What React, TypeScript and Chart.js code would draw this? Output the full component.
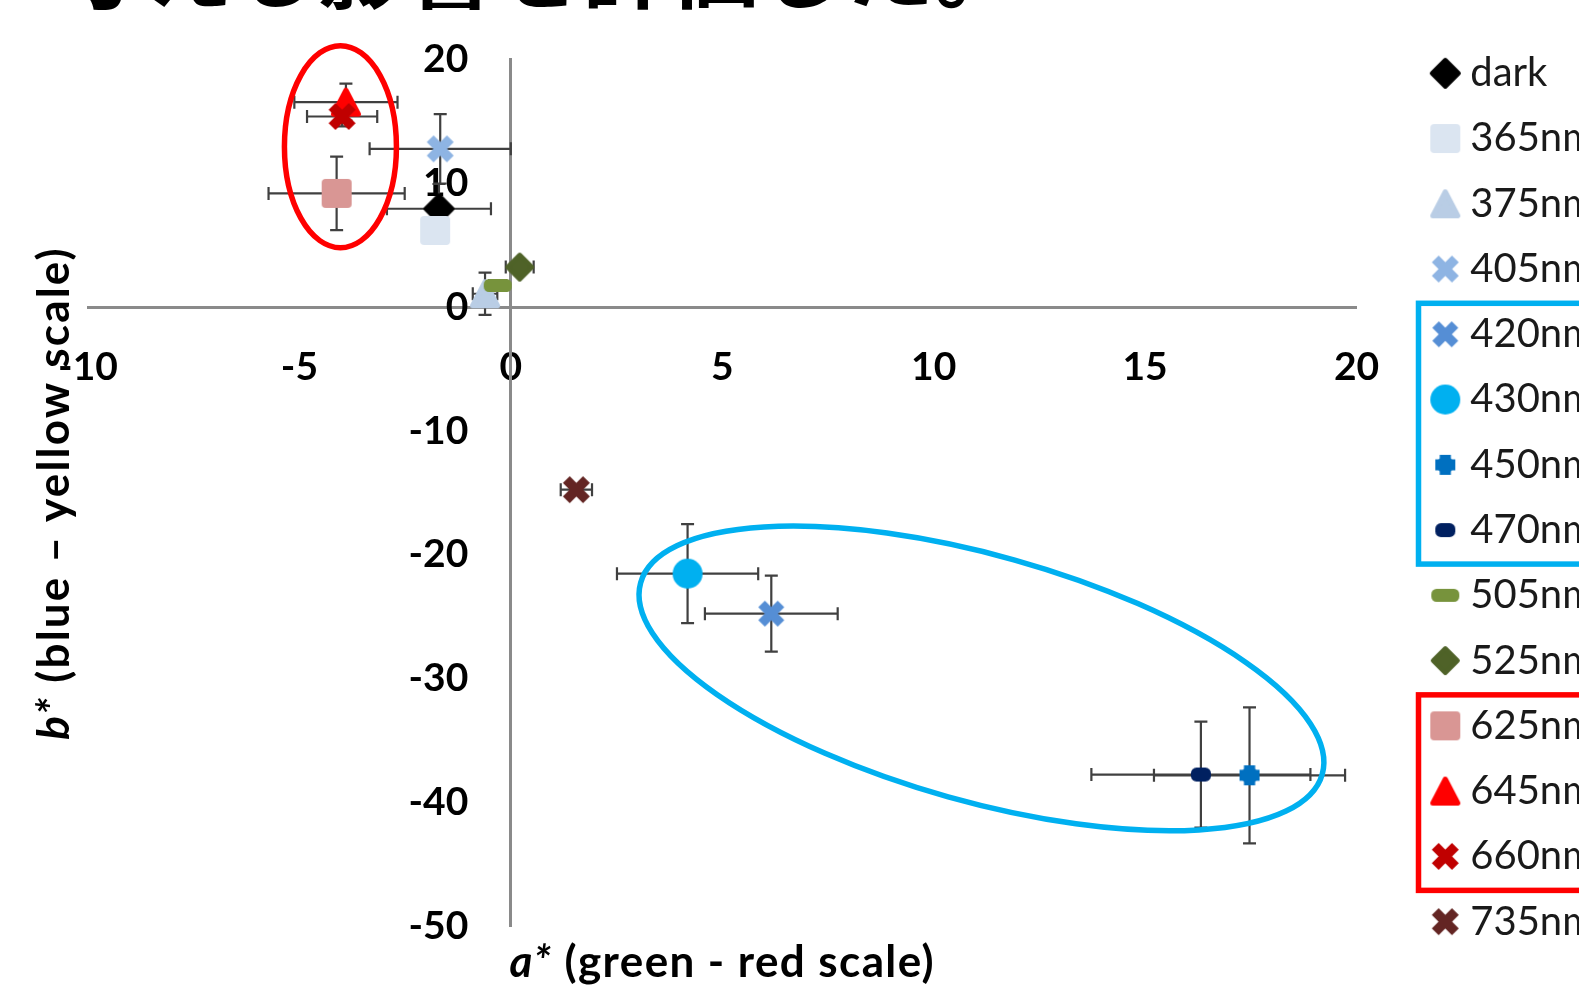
import { useEffect, useRef } from 'react';
import { Chart, registerables } from 'chart.js';

Chart.register(...registerables);

// Series in legend order
const seriesNames = ['dark', '365nm', '375nm', '405nm', '420nm', '430nm', '450nm', '470nm', '505nm', '525nm', '625nm', '645nm', '660nm', '735nm'];
// a* (green - red) mean values
const aValues = [-1.70, -1.79, -0.61, -1.67, 6.16, 4.18, 17.47, 16.32, -0.31, 0.21, -4.12, -3.90, -3.99, 1.55];
// b* (blue - yellow) mean values
const bValues = [7.94, 6.19, 1.08, 12.78, -24.75, -21.52, -37.80, -37.74, 1.75, 3.23, 9.18, 16.55, 15.39, -14.74];
// standard deviations
const aErrors = [1.23, 0.20, 0.29, 1.67, 1.57, 1.67, 2.26, 2.59, 0.20, 0.33, 1.61, 1.22, 0.83, 0.37];
const bErrors = [2.00, 0.30, 1.70, 2.80, 3.07, 4.00, 5.49, 4.28, 0.30, 0.30, 2.97, 1.50, 0.80, 0.30];

// axis ranges: [min, max, step]
const aAxisRange = [-10, 20, 5];
const bAxisRange = [-50, 20, 10];

const headline = '与える影響を評価した。';
const aTitle = ['a*', ' (green - red scale)'];
const bTitle = ['b*', ' (blue \u2013 yellow scale)'];

const seriesColors = ['#000000', '#dbe5f1', '#b9cde5', '#8eb4e3', '#558ed5', '#00b0f0', '#0070c0', '#002060', '#77933c', '#4f6228', '#d99694', '#ff0000', '#c00000', '#632523'];
// marker shape, width, height
const markerShapes: [string, number, number][] = [
  ['diamond', 31, 31], ['square', 30, 29], ['triangle', 30, 29], ['cross', 27, 27],
  ['cross', 26, 26], ['circle', 30, 30], ['plus', 20, 20], ['dash', 20, 14],
  ['dash', 28, 13], ['diamond', 29, 29], ['square', 30, 29], ['triangle', 30, 29],
  ['cross', 27, 27], ['cross', 27, 27],
];

// highlighted legend groups (row indices)
const legendGroups = [
  { first: 4, last: 7, color: '#00b0f0' },
  { first: 10, last: 12, color: '#ff0000' },
];
// ellipses around the same groups: centre in data units, radii in px, rotation in degrees
const groupEllipses = [
  { a: -4.03, b: 12.95, rx: 56, ry: 101, rot: 0, color: '#ff0000' },
  { a: 11.13, b: -29.98, rx: 354, ry: 123, rot: 15.7, color: '#00b0f0' },
];

const FONT = 'Lato';
const LEGEND_FONT = 40;
const LEGEND_PAD = 25.26;
const LEGEND_LEFT = 1415;
const LEGEND_TOP = 28;

function makeMarker(kind: string, color: string, w: number, h: number) {
  const pad = 3;
  const c = document.createElement('canvas');
  c.width = Math.ceil(w + pad * 2);
  c.height = Math.ceil(h + pad * 2);
  const g = c.getContext('2d')!;
  g.translate(c.width / 2, c.height / 2);
  g.fillStyle = color;
  g.strokeStyle = color;
  g.lineJoin = 'round';
  const hw = w / 2;
  const hh = h / 2;
  if (kind === 'diamond') {
    g.lineWidth = 4;
    g.beginPath();
    g.moveTo(0, -hh + 2); g.lineTo(hw - 2, 0); g.lineTo(0, hh - 2); g.lineTo(-hw + 2, 0);
    g.closePath(); g.fill(); g.stroke();
  } else if (kind === 'square') {
    g.beginPath(); g.roundRect(-hw, -hh, w, h, 4); g.fill();
  } else if (kind === 'triangle') {
    g.lineWidth = 5;
    g.beginPath();
    g.moveTo(0, -hh + 2.5); g.lineTo(hw - 2.5, hh - 2.5); g.lineTo(-hw + 2.5, hh - 2.5);
    g.closePath(); g.fill(); g.stroke();
  } else if (kind === 'cross') {
    const t = w * 0.36;
    const d = hw - t / (2 * Math.SQRT2);
    g.lineWidth = t; g.lineCap = 'butt';
    g.beginPath();
    g.moveTo(-d, -d); g.lineTo(d, d);
    g.moveTo(d, -d); g.lineTo(-d, d);
    g.stroke();
  } else if (kind === 'circle') {
    g.beginPath(); g.arc(0, 0, hw, 0, Math.PI * 2); g.fill();
  } else if (kind === 'plus') {
    g.lineWidth = w * 0.56; g.lineCap = 'butt';
    g.beginPath(); g.moveTo(-hw, 0); g.lineTo(hw, 0); g.moveTo(0, -hh); g.lineTo(0, hh); g.stroke();
    g.beginPath(); g.arc(0, 0, hw * 0.86, 0, Math.PI * 2); g.fill();
  } else {
    g.beginPath(); g.roundRect(-hw, -hh, w, h, hh * 0.8); g.fill();
  }
  return c;
}

const errorBars = {
  id: 'errorBars',
  beforeDatasetsDraw(chart: any) {
    const { ctx, scales: { x, y } } = chart;
    const cap = 6.5;
    ctx.save();
    ctx.strokeStyle = '#404040';
    ctx.lineWidth = 2.2;
    aValues.forEach((a, i) => {
      const b = bValues[i];
      const px = x.getPixelForValue(a);
      const py = y.getPixelForValue(b);
      const xl = x.getPixelForValue(a - aErrors[i]);
      const xr = x.getPixelForValue(a + aErrors[i]);
      const yt = y.getPixelForValue(b + bErrors[i]);
      const yb = y.getPixelForValue(b - bErrors[i]);
      ctx.beginPath();
      ctx.moveTo(xl, py); ctx.lineTo(xr, py);
      ctx.moveTo(xl, py - cap); ctx.lineTo(xl, py + cap);
      ctx.moveTo(xr, py - cap); ctx.lineTo(xr, py + cap);
      ctx.moveTo(px, yt); ctx.lineTo(px, yb);
      ctx.moveTo(px - cap, yt); ctx.lineTo(px + cap, yt);
      ctx.moveTo(px - cap, yb); ctx.lineTo(px + cap, yb);
      ctx.stroke();
    });
    ctx.restore();
  },
};

// Place the legend beside the plot and run the b* axis through a* = 0
const placeBoxes = {
  id: 'placeBoxes',
  afterLayout(chart: any) {
    const zeroX = chart.scales.x.getPixelForValue(0);
    chart.scales.y.left = zeroX - 250;
    chart.scales.y.right = zeroX;
    chart.scales.y.width = 250;
    const lg = chart.legend;
    if (!lg) return;
    lg.left = LEGEND_LEFT;
    lg.top = LEGEND_TOP;
    lg.right = 3000;
    lg.bottom = 3000;
    lg.width = lg.right - lg.left;
    lg.height = lg.bottom - lg.top;
  },
};

function drawMixed(ctx: CanvasRenderingContext2D, parts: string[], size: number, spacing: number) {
  const fonts = [`italic bold ${size}px ${FONT}`, `bold ${size}px ${FONT}`];
  (ctx as any).letterSpacing = `${spacing}px`;
  const widths = parts.map((p, k) => { ctx.font = fonts[k]; return ctx.measureText(p).width; });
  let x = -(widths[0] + widths[1]) / 2;
  parts.forEach((p, k) => {
    ctx.font = fonts[k];
    ctx.fillText(p, x, 0);
    x += widths[k];
  });
}

const decorations = {
  id: 'decorations',
  afterDatasetsDraw(chart: any) {
    const { ctx, scales: { x, y } } = chart;
    ctx.save();
    ctx.lineWidth = 5.5;
    groupEllipses.forEach((e) => {
      ctx.strokeStyle = e.color;
      ctx.beginPath();
      ctx.ellipse(x.getPixelForValue(e.a), y.getPixelForValue(e.b), e.rx, e.ry, (e.rot * Math.PI) / 180, 0, Math.PI * 2);
      ctx.stroke();
    });
    ctx.restore();
  },
  afterDraw(chart: any) {
    const { ctx, chartArea } = chart;
    ctx.save();
    ctx.fillStyle = '#000';
    ctx.textAlign = 'left';
    ctx.textBaseline = 'alphabetic';
    // horizontal axis title
    ctx.save();
    ctx.translate((chartArea.left + chartArea.right) / 2, 977);
    drawMixed(ctx, aTitle, 44, 1.4);
    ctx.restore();
    // vertical axis title
    ctx.save();
    ctx.translate(69, 493);
    ctx.rotate(-Math.PI / 2);
    drawMixed(ctx, bTitle, 44, 2.2);
    ctx.restore();
    // legend group frames
    const lg = chart.legend;
    const rowCenter = (i: number) => lg.top + LEGEND_PAD + LEGEND_FONT / 2 + i * (LEGEND_FONT + LEGEND_PAD);
    ctx.lineWidth = 5.5;
    legendGroups.forEach((grp) => {
      ctx.strokeStyle = grp.color;
      const top = rowCenter(grp.first) - 31;
      const bottom = rowCenter(grp.last) + 34;
      ctx.strokeRect(1418.5, top, 400, bottom - top);
    });
    ctx.restore();
  },
};

export default function App() {
  const ref = useRef<HTMLCanvasElement>(null);
  useEffect(() => {
    const canvas = ref.current!;
    const markers = seriesNames.map((_, i) => makeMarker(markerShapes[i][0], seriesColors[i], markerShapes[i][1], markerShapes[i][2]));
    const tickFont = { family: FONT, size: 39, weight: 'bold' as const };
    const chart = new Chart(canvas, {
      type: 'scatter',
      data: {
        datasets: seriesNames.map((name, i) => ({
          label: name,
          data: [{ x: aValues[i], y: bValues[i] }],
          pointStyle: markers[i],
          pointRadius: 12,
          pointHoverRadius: 12,
          backgroundColor: seriesColors[i],
          borderColor: seriesColors[i],
          order: -i,
        })),
      },
      options: {
        responsive: false,
        animation: false,
        layout: { padding: { left: 88, right: 222.5, top: 59.4, bottom: 61.6 } },
        scales: {
          x: {
            type: 'linear',
            position: { y: 0 },
            min: aAxisRange[0],
            max: aAxisRange[1],
            ticks: { stepSize: aAxisRange[2], font: tickFont, color: '#000', padding: 37, maxRotation: 0, autoSkip: false },
            grid: { display: false, drawTicks: false },
            border: { display: true, color: '#8a8a8a', width: 3 },
            afterFit: (s: any) => { s.height = 0; s.paddingLeft = 0; s.paddingRight = 0; },
          },
          y: {
            type: 'linear',
            position: 'left',
            min: bAxisRange[0],
            max: bAxisRange[1],
            ticks: { stepSize: bAxisRange[2], font: tickFont, color: '#000', padding: 42.5, autoSkip: false },
            grid: { display: false, drawTicks: false },
            border: { display: true, color: '#8a8a8a', width: 3 },
            afterFit: (s: any) => { s.width = 0; s.paddingTop = 0; s.paddingBottom = 0; },
          },
        },
        plugins: {
          legend: {
            position: 'chartArea',
            align: 'start',
            labels: {
              usePointStyle: true,
              pointStyleWidth: 10,
              padding: LEGEND_PAD,
              font: { family: FONT, size: LEGEND_FONT },
              color: '#1a1a1a',
              sort: (p: any, q: any) => p.datasetIndex - q.datasetIndex,
            },
          },
          tooltip: { enabled: false },
        },
      } as any,
      plugins: [errorBars, placeBoxes, decorations],
    });
    return () => chart.destroy();
  }, []);

  return (
    <div style={{ position: 'fixed', left: 0, top: 0, width: 1579, height: 988, overflow: 'hidden', background: '#fff' }}>
      <div
        style={{
          position: 'absolute', left: 57, top: -81, fontSize: 88, lineHeight: '88px', fontWeight: 700,
          fontFamily: '"Noto Sans CJK JP"', whiteSpace: 'nowrap', color: '#000',
        }}
      >
        {headline}
      </div>
      <canvas ref={ref} width={1579} height={988} style={{ position: 'absolute', left: 0, top: 0 }} />
    </div>
  );
}
